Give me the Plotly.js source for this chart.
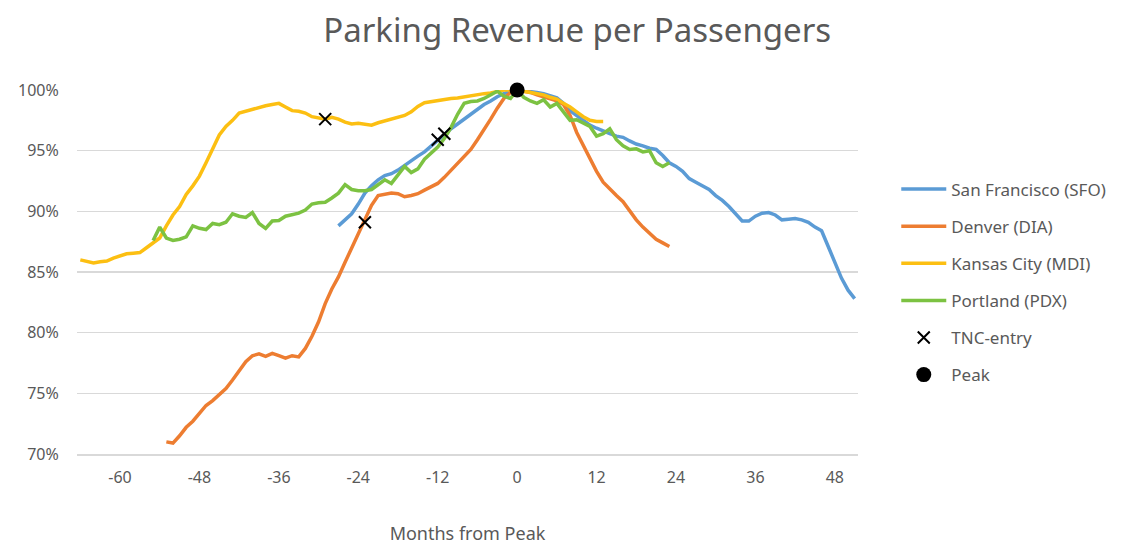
<!DOCTYPE html>
<html><head><meta charset="utf-8">
<script src="https://cdn.plot.ly/plotly-3.0.1.min.js"></script>
<style>html,body{margin:0;padding:0;background:#fff}#chart{width:1143px;height:545px}</style>
</head><body><div id="chart"></div>
<script>
// Months from peak (x) and values (%) for each airport
const sfoStart = -27;
const sfo = [88.8,89.3,89.8,90.6,91.5,92.1,92.6,92.95,93.1,93.4,93.8,94.2,94.55,94.9,95.4,95.85,96.3,96.8,97.2,97.6,98.0,98.4,98.8,99.1,99.45,99.7,99.9,
  100,99.95,99.9,99.8,99.7,99.5,99.35,98.9,98.3,97.9,97.5,97.1,96.85,96.6,96.4,96.2,96.1,95.8,95.55,95.4,95.2,95.1,94.6,94.0,93.7,93.3,92.7,92.4,92.1,91.8,91.3,90.9,90.4,89.8,89.2,89.2,89.6,89.85,89.9,89.7,89.3,89.35,89.4,89.3,89.1,88.7,88.4,87.1,85.75,84.5,83.5,82.8];
const denStart = -53;
const den = [71.0,70.9,71.5,72.2,72.7,73.3,74.0,74.4,74.9,75.4,76.1,76.9,77.6,78.1,78.25,78.05,78.3,78.1,77.9,78.1,78.0,78.7,79.7,80.9,82.4,83.6,84.6,85.8,87.0,88.1,89.3,90.5,91.3,91.4,91.5,91.45,91.2,91.3,91.45,91.75,92.0,92.3,92.8,93.4,94.0,94.5,95.1,95.9,96.7,97.6,98.5,99.3,99.8,
  100,99.9,99.8,99.6,99.45,99.3,99.1,98.8,97.9,96.5,95.4,94.3,93.3,92.4,91.8,91.3,90.8,90.0,89.3,88.7,88.2,87.7,87.4,87.1];
const kcStart = -66;
const kc = [86.0,85.9,85.75,85.85,85.9,86.15,86.3,86.5,86.55,86.6,87.0,87.4,87.8,88.8,89.7,90.4,91.4,92.1,92.9,94.0,95.2,96.3,97.0,97.5,98.1,98.25,98.4,98.6,98.7,98.8,98.9,98.6,98.3,98.25,98.1,97.8,97.7,97.6,97.75,97.6,97.35,97.2,97.25,97.2,97.1,97.3,97.45,97.6,97.8,97.9,98.2,98.65,98.95,99.05,99.1,99.25,99.3,99.35,99.45,99.5,99.6,99.7,99.75,99.9,100,100,
  100,99.9,99.8,99.7,99.6,99.4,99.25,98.9,98.6,98.2,97.8,97.5,97.4,97.4];
const pdxStart = -55;
const pdx = [87.6,88.7,87.8,87.6,87.7,87.9,88.8,88.6,88.5,89.0,88.9,89.1,89.8,89.6,89.5,89.9,89.0,88.6,89.2,89.25,89.6,89.7,89.85,90.1,90.6,90.7,90.75,91.1,91.5,92.2,91.8,91.7,91.7,91.8,92.2,92.6,92.3,93.0,93.7,93.2,93.5,94.3,94.8,95.3,96.0,96.9,98.0,98.9,99.05,99.1,99.3,99.6,99.9,99.5,99.3,
  100,99.4,99.1,98.9,99.2,98.6,98.9,98.2,97.5,97.55,97.3,97.0,96.2,96.4,96.8,95.9,95.4,95.1,95.15,94.9,95.0,94.0,93.7,94.0];
const tncX = [-29, -23, -12, -11];
const tncY = [97.6, 89.1, 95.9, 96.4];
const peakX = [0];
const peakY = [100];
const xTicks = [-60,-48,-36,-24,-12,0,12,24,36,48];
const names = ['San Francisco (SFO)','Denver (DIA)','Kansas City (MDI)','Portland (PDX)'];
const colors = ['#5b9bd5','#ed7d31','#fcbf12','#7cc242'];

function months(start, arr){ return arr.map((_, i) => start + i); }
const series = [[sfoStart, sfo],[denStart, den],[kcStart, kc],[pdxStart, pdx]];
const traces = series.map((s, i) => ({
  type:'scatter', mode:'lines', name:names[i], x:months(s[0], s[1]), y:s[1],
  line:{color:colors[i], width:3.5}, legendgroup:'g'+i, cliponaxis:false
}));
traces.push({type:'scatter', mode:'markers', name:'TNC-entry', x:tncX, y:tncY, legendgroup:'g4',
  marker:{symbol:'x-thin', size:12, color:'#000', line:{color:'#000', width:2}}, cliponaxis:false});
traces.push({type:'scatter', mode:'markers', name:'Peak', x:peakX, y:peakY, legendgroup:'g5',
  marker:{symbol:'circle', size:15, color:'#000'}, cliponaxis:false});

const font = "'Noto Sans', 'DejaVu Sans', sans-serif";
const layout = {
  width:1143, height:545,
  margin:{l:77, r:285, t:90, b:91},
  paper_bgcolor:'#fff', plot_bgcolor:'#fff',
  font:{family:font, color:'#595959', size:16},
  title:{text:'Parking Revenue per Passengers', x:0.505, xanchor:'center', y:0.945, yanchor:'middle',
    font:{family:font, size:33, color:'#595959'}},
  xaxis:{range:[-66.5, 51.5], tickvals:xTicks, ticktext:xTicks.map(String), showgrid:false, zeroline:false,
    showline:true, linecolor:'#d9d9d9', linewidth:1.5, ticks:'outside', ticklen:8, tickcolor:'rgba(0,0,0,0)',
    tickfont:{size:16, color:'#595959'},
    title:{text:'Months from Peak', standoff:42, font:{size:18, color:'#595959'}}},
  yaxis:{range:[70, 100], dtick:5, ticksuffix:'%', showgrid:true, gridcolor:'#d9d9d9', gridwidth:1.5,
    zeroline:false, showline:false, ticks:'outside', ticklen:14, tickcolor:'rgba(0,0,0,0)',
    tickfont:{size:16, color:'#595959'}},
  showlegend:true,
  legend:{x:1.049, y:0.776, xanchor:'left', yanchor:'top', traceorder:'grouped', tracegroupgap:12,
    itemwidth:45, font:{size:17, color:'#595959'}, bgcolor:'rgba(0,0,0,0)'}
};
Plotly.newPlot('chart', traces, layout, {displayModeBar:false, staticPlot:true});
</script></body></html>
